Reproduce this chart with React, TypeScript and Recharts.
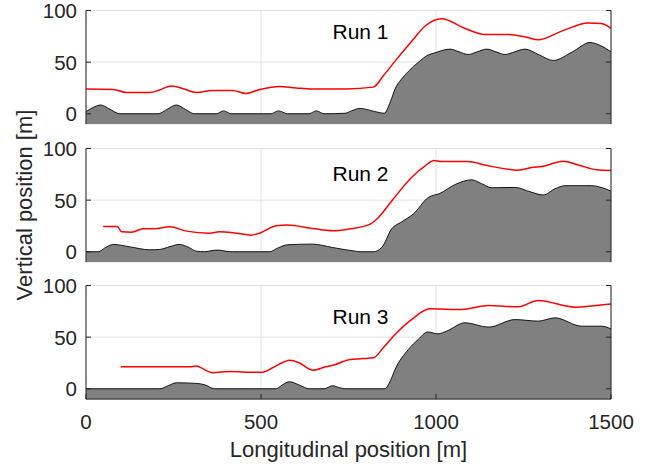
import React from "react";
import {
  ComposedChart,
  Area,
  Line,
  XAxis,
  YAxis,
  CartesianGrid,
} from "recharts";

// ---- data (x in m, y in m) ----
const run1Terrain: [number, number][] = [
  [0, 2], [20, 6], [42, 8.5], [65, 5], [97, 0], [206, 0], [230, 4], [258, 8.5], [285, 4], [310, 0],
  [372, 0], [393, 2.8], [415, 0], [528, 0], [550, 2.8], [576, 0], [637, 0], [658, 2.8], [680, 0],
  [740, 0.5], [760, 3], [783, 5.2], [810, 3.5], [840, 1], [852, 0.5], [870, 12], [883, 24], [900, 33],
  [921, 41], [950, 50], [978, 57], [994, 58.7], [1040, 62.6], [1066, 60], [1092, 57.4], [1118, 60],
  [1145, 62.6], [1171, 60], [1197, 57.4], [1225, 60], [1254, 62.6], [1295, 57], [1335, 51.6],
  [1390, 60], [1440, 69], [1470, 66], [1500, 60],
];
const run1Path: [number, number][] = [
  [0, 23.9], [78, 23.5], [116, 20.6], [182, 20.6], [210, 23], [244, 27], [280, 24], [315, 20.6],
  [362, 22.6], [419, 22.6], [457, 19.7], [496, 23.5], [552, 26.5], [600, 25], [647, 23.9], [742, 24],
  [821, 25.8], [850, 37], [883, 51], [930, 70], [969, 85], [1016, 92], [1083, 82.6], [1140, 76.8],
  [1207, 76.8], [1260, 74], [1292, 71.6], [1359, 80], [1435, 88], [1473, 87.4], [1500, 82.6],
];
const run2Terrain: [number, number][] = [
  [0, 0], [35, 0], [55, 4], [78, 7.1], [125, 4.8], [182, 1.9], [211, 2.3], [240, 5], [266, 7.1],
  [295, 4], [315, 0.6], [339, 0], [360, 1.2], [381, 1.6], [400, 0.5], [419, 0], [524, 0], [550, 4],
  [576, 6.8], [647, 7.4], [704, 4.2], [742, 1.9], [770, 0.6], [783, 0], [821, 0], [845, 4.2],
  [873, 22], [902, 29], [935, 36.5], [978, 52.6], [1011, 56.5], [1054, 65], [1102, 69.7], [1130, 66],
  [1159, 62], [1226, 62.3], [1270, 58], [1307, 55], [1340, 61], [1369, 64], [1445, 64], [1475, 62],
  [1500, 58.7],
];
const run2Path: [number, number][] = [
  [49, 24.5], [89, 24.5], [102, 19.4], [130, 19], [163, 22.3], [196, 22.3], [239, 24.2], [287, 20],
  [353, 18], [381, 19.4], [429, 18], [472, 16.1], [496, 18], [543, 25.2], [576, 26], [647, 22.6],
  [704, 20.3], [751, 22], [807, 26], [835, 33], [873, 49], [930, 72], [969, 83.2], [995, 88.4],
  [1016, 87.4], [1092, 87.4], [1140, 84], [1235, 79], [1273, 81.6], [1302, 82.6], [1364, 87.7],
  [1407, 84], [1459, 79.4], [1500, 78.7],
];
const run3Terrain: [number, number][] = [
  [0, 0], [211, 0], [235, 3], [258, 5.8], [315, 5.2], [339, 3.9], [367, 0], [543, 0], [560, 3.5],
  [582, 6.8], [610, 3.5], [638, 0], [680, 0], [704, 2.9], [725, 1], [742, 0], [854, 0], [870, 8],
  [883, 18.7], [921, 38], [950, 48], [976, 55], [1006, 53.2], [1030, 55.8], [1083, 63.9],
  [1150, 59.7], [1226, 67], [1292, 65.5], [1340, 68.7], [1416, 60.6], [1473, 60.6], [1500, 58],
];
const run3Path: [number, number][] = [
  [99, 21.3], [296, 21.3], [313, 22], [362, 15.5], [410, 16.8], [457, 16.1], [505, 16.1],
  [533, 20.3], [583, 27.7], [609, 25.2], [647, 18], [685, 21.3], [713, 23.5], [751, 28.2],
  [790, 29.2], [821, 30], [850, 40], [883, 52.6], [930, 67], [983, 77.4], [1073, 76.8],
  [1150, 80.6], [1235, 79.4], [1292, 85.5], [1397, 79], [1450, 80.3], [1500, 82],
];

const runLabels = ["Run 1", "Run 2", "Run 3"];
const X_TICKS = [0, 500, 1000, 1500];
const Y_TICKS = [0, 50, 100];
const X_DOMAIN: [number, number] = [0, 1500];
const Y_DOMAIN: [number, number] = [-10, 100];

function merge(terrain: [number, number][], path: [number, number][]) {
  const m = new Map<number, { x: number; t: number | null; r: number | null }>();
  terrain.forEach(([x, y]) => m.set(x, { x, t: y, r: null }));
  path.forEach(([x, y]) => {
    const e = m.get(x);
    if (e) e.r = y;
    else m.set(x, { x, t: null, r: y });
  });
  return Array.from(m.values()).sort((a, b) => a.x - b.x);
}

const runs = [
  merge(run1Terrain, run1Path),
  merge(run2Terrain, run2Path),
  merge(run3Terrain, run3Path),
];

const FONT = "'Liberation Sans', Arial, Helvetica, sans-serif";
const AX = "#262626";
const PLOT_TOPS = [10.7, 148.0, 285.3];
const PLOT_H = 113.6;
const TICK_LEN = 5;
const MT = 10.5;

const LeftTick = (p: any) => (
  <g>
    <line x1={p.x + 9} x2={p.x + 9 + TICK_LEN} y1={p.y} y2={p.y} stroke={AX} />
    <text x={p.x} y={p.y} dy="0.36em" textAnchor="end" fontSize={20.5} fill={AX} fontFamily={FONT}>
      {p.payload.value}
    </text>
  </g>
);
const RightTick = (p: any) => (
  <line x1={p.x} x2={p.x - TICK_LEN} y1={p.y} y2={p.y} stroke={AX} />
);
const TopTick = (p: any) => (
  <line x1={p.x} x2={p.x} y1={p.y} y2={p.y + TICK_LEN} stroke={AX} />
);
const makeBottomTick = (labels: boolean) => (p: any) => (
  <g>
    <line x1={p.x} x2={p.x} y1={p.y} y2={p.y - TICK_LEN} stroke={AX} />
    {labels && (
      <text x={p.x} y={p.y + 29.5} textAnchor="middle" fontSize={20.5} fill={AX} fontFamily={FONT}>
        {p.payload.value}
      </text>
    )}
  </g>
);

function Subplot({ idx }: { idx: number }) {
  const last = idx === 2;
  const xh = last ? 60 : 0;
  const mb = last ? 0 : 1;
  const height = MT + PLOT_H + xh + mb;
  return (
    <div style={{ position: "absolute", left: 0, top: PLOT_TOPS[idx] - MT }}>
      <ComposedChart
        width={655}
        height={height}
        data={runs[idx]}
        margin={{ top: MT, right: 0, bottom: mb, left: 0 }}
        style={{ overflow: "visible" }}
      >
        <CartesianGrid stroke="#e1e1e1" strokeWidth={1} />
        <Area
          dataKey="t"
          type="monotone"
          baseValue={-10}
          stroke="#000"
          strokeWidth={0.9}
          fill="#808080"
          fillOpacity={1}
          connectNulls
          dot={false}
          activeDot={false}
          isAnimationActive={false}
        />
        <Line
          dataKey="r"
          type="monotone"
          stroke="#ff0000"
          strokeWidth={1.5}
          connectNulls
          dot={false}
          activeDot={false}
          isAnimationActive={false}
        />
        <XAxis
          dataKey="x"
          type="number"
          domain={X_DOMAIN}
          ticks={X_TICKS}
          interval={0}
          allowDataOverflow
          height={xh}
          tickSize={0}
          tickMargin={0}
          tickLine={false}
          axisLine={{ stroke: AX }}
          tick={makeBottomTick(last)}
        />
        <XAxis
          xAxisId="top"
          orientation="top"
          type="number"
          domain={X_DOMAIN}
          ticks={X_TICKS}
          interval={0}
          allowDataOverflow
          height={0}
          tickSize={0}
          tickMargin={0}
          tickLine={false}
          axisLine={{ stroke: AX }}
          tick={TopTick}
        />
        <YAxis
          type="number"
          domain={Y_DOMAIN}
          ticks={Y_TICKS}
          interval={0}
          allowDataOverflow
          width={86}
          tickSize={7}
          tickMargin={2}
          tickLine={false}
          axisLine={{ stroke: AX }}
          tick={LeftTick}
        />
        <YAxis
          yAxisId="r"
          orientation="right"
          type="number"
          domain={Y_DOMAIN}
          ticks={Y_TICKS}
          interval={0}
          allowDataOverflow
          width={44}
          tickSize={0}
          tickMargin={0}
          tickLine={false}
          axisLine={{ stroke: AX }}
          tick={RightTick}
        />
      </ComposedChart>
    </div>
  );
}

const RUN_LABEL_BASELINES = [38.7, 180.7, 323.7];

export default function App() {
  return (
    <div
      style={{
        position: "absolute",
        left: 0,
        top: 0,
        width: 655,
        height: 468,
        background: "#fff",
        fontFamily: FONT,
      }}
    >
      {[0, 1, 2].map((i) => (
        <Subplot key={i} idx={i} />
      ))}
      <svg
        width={655}
        height={468}
        style={{ position: "absolute", left: 0, top: 0, pointerEvents: "none" }}
      >
        {runLabels.map((t, i) => (
          <text key={t} x={332.5} y={RUN_LABEL_BASELINES[i]} fontSize={21} fill="#000" fontFamily={FONT}>
            {t}
          </text>
        ))}
        <text x={348.5} y={456.5} textAnchor="middle" fontSize={22} fill={AX} fontFamily={FONT}>
          Longitudinal position [m]
        </text>
        <text
          x={32}
          y={205}
          textAnchor="middle"
          fontSize={22}
          fill={AX}
          fontFamily={FONT}
          transform="rotate(-90 32 205)"
        >
          Vertical position [m]
        </text>
      </svg>
    </div>
  );
}
